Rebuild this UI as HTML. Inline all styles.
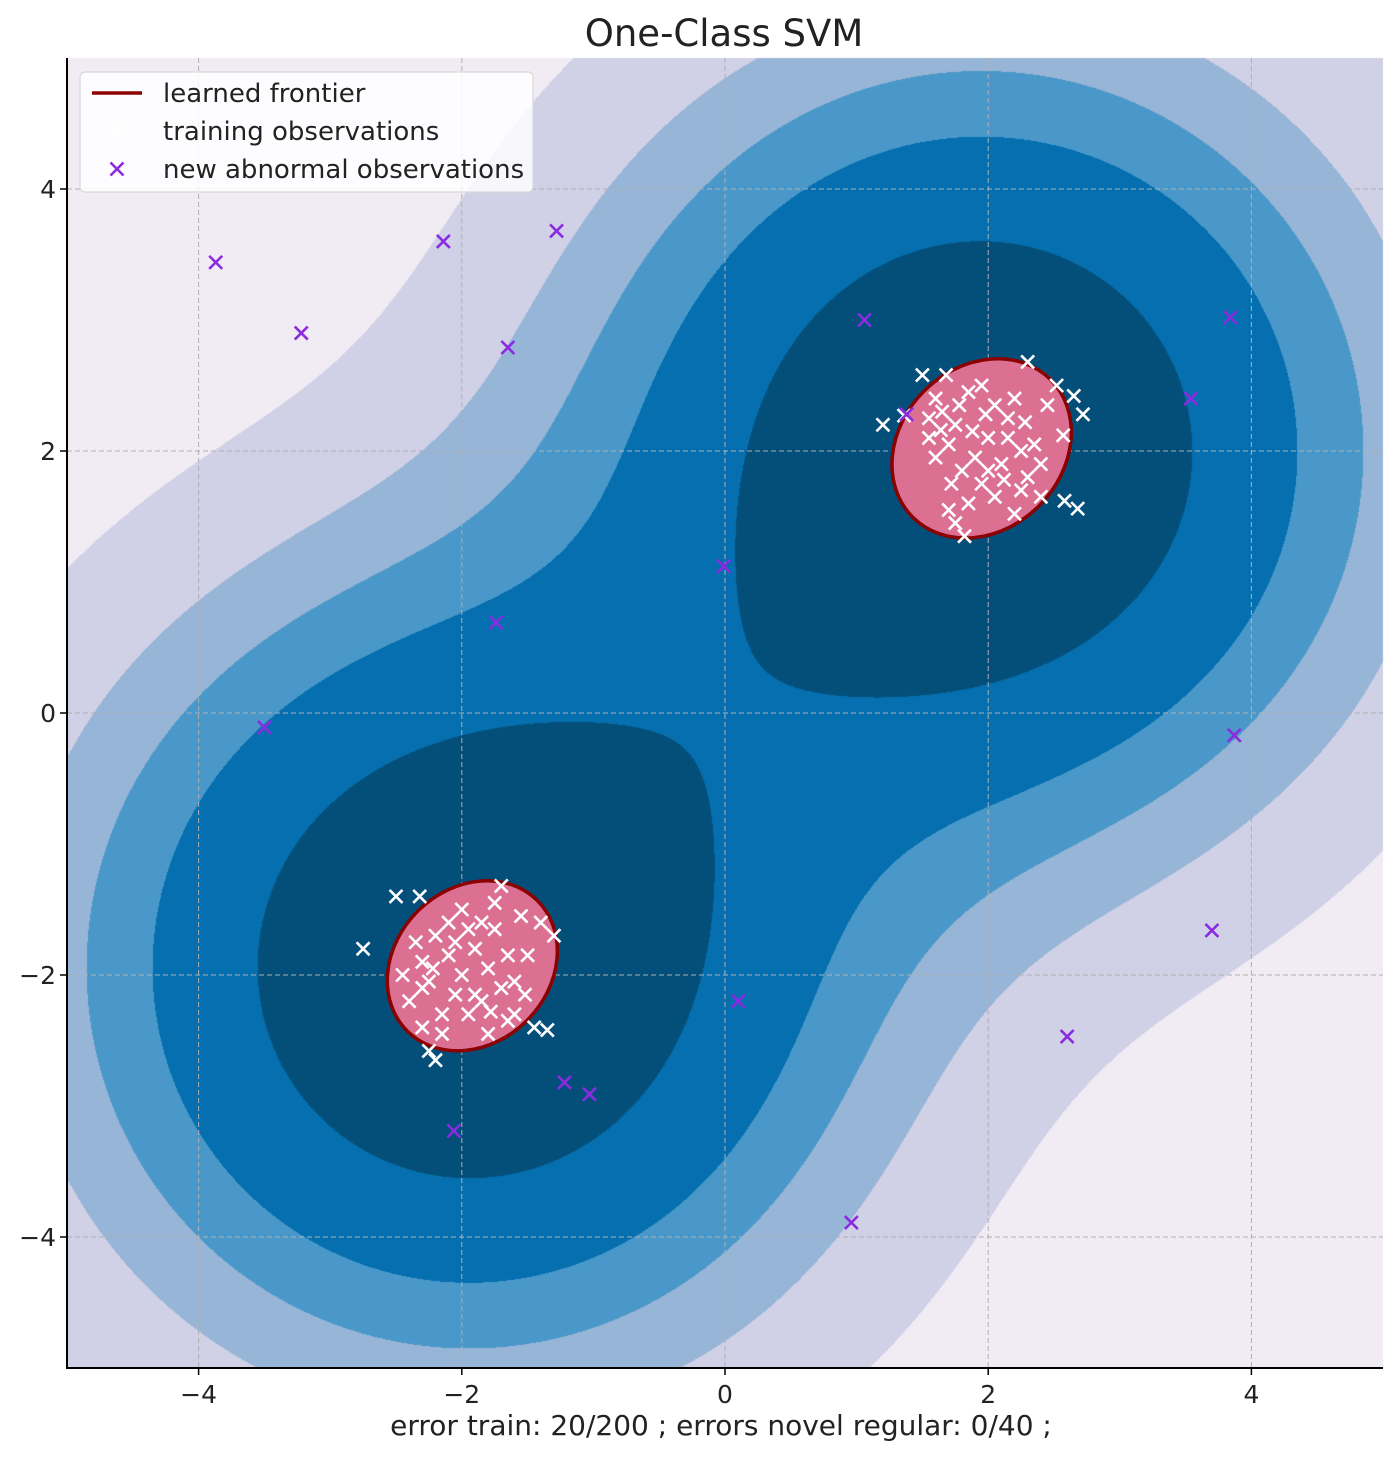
<!DOCTYPE html>
<html><head><meta charset="utf-8"><style>
body{margin:0;background:#fff;width:1400px;height:1457px;overflow:hidden;font-family:"DejaVu Sans","Liberation Sans",sans-serif;}
#wrap{position:relative;width:1400px;height:1457px;}
canvas,svg{position:absolute;left:0;top:0;}
</style></head><body>
<div id="wrap">
<canvas id="cv" width="1400" height="1457"></canvas>
<svg id="sv" width="1400" height="1457"></svg>
</div>
<script>
const xTicks=[-4,-2,0,2,4];
const yTicks=[-4,-2,0,2,4];
const centers=[[1.95,2.0],[-1.95,-1.95]];
const levels=[0.075,0.19,0.308,0.447,0.70];
const levelColors=["#f1ebf4","#d0d1e6","#97b5d6","#4a98c9","#056faf","#044f7a"];
const frontiers=[[1.95,2.02,0.74,0.62,-45],[-1.92,-1.93,0.70,0.59,-45]];
const trainUpper=[[1.5,2.58],[1.68,2.58],[1.2,2.2],[1.36,2.27],[2.3,2.68],[2.52,2.5],[2.65,2.42],[2.72,2.28],[2.68,1.56],[2.58,1.62],[1.82,1.35],[1.75,1.45],[1.7,1.55],[2.2,1.52],[2.4,1.65],[2.57,2.12],[2.45,2.35],[1.55,2.1],[1.6,1.95],[1.65,2.3],[1.75,2.2],[1.85,2.45],[1.95,2.5],[2.05,2.35],[2.15,2.25],[2.0,2.1],[1.9,1.95],[1.8,1.85],[2.1,1.9],[2.25,2.0],[2.35,2.05],[1.95,1.75],[2.05,1.65],[1.85,1.6],[2.3,1.8],[1.7,2.05],[2.15,2.1],[1.78,2.35],[2.4,1.9],[1.6,2.4],[2.2,2.4],[2.0,1.85],[1.88,2.15],[2.25,1.7],[1.55,2.25],[1.72,1.75],[2.28,2.22],[1.98,2.28],[1.64,2.16],[2.12,1.78]];
const trainLower=[[-2.75,-1.8],[-2.5,-1.4],[-2.32,-1.4],[-1.7,-1.32],[-1.3,-1.7],[-1.45,-2.4],[-1.35,-2.42],[-2.2,-2.65],[-2.25,-2.58],[-2.3,-2.4],[-1.8,-2.45],[-1.6,-2.3],[-1.4,-1.6],[-1.5,-1.85],[-1.6,-2.05],[-2.45,-2.0],[-2.35,-1.75],[-2.2,-1.7],[-2.1,-1.85],[-2.0,-2.0],[-1.9,-1.8],[-1.8,-1.95],[-1.7,-2.1],[-2.05,-2.15],[-2.15,-2.3],[-1.95,-2.3],[-1.85,-1.6],[-2.0,-1.5],[-1.75,-1.65],[-2.25,-2.05],[-2.4,-2.2],[-1.65,-1.85],[-1.55,-1.55],[-2.1,-1.6],[-1.9,-2.15],[-2.3,-1.9],[-1.85,-2.2],[-1.95,-1.65],[-2.15,-2.45],[-1.65,-2.35],[-2.3,-2.1],[-1.75,-1.45],[-2.05,-1.75],[-1.78,-2.28],[-2.22,-1.95],[-1.52,-2.15]];
const abnormal=[[-3.87,3.44],[-3.22,2.9],[-2.14,3.6],[-1.28,3.68],[-1.65,2.79],[1.06,3.0],[3.84,3.02],[3.54,2.4],[1.38,2.28],[-0.01,1.12],[-1.74,0.69],[-3.5,-0.11],[3.87,-0.17],[3.7,-1.66],[2.6,-2.47],[0.1,-2.2],[-1.22,-2.82],[-1.03,-2.91],[-2.06,-3.19],[0.96,-3.89]];

const L=67,R=1383,T=58,B=1368;
const sx=v=>L+(v+5)/10*(R-L);
const sy=v=>B-(v+5)/10*(B-T);
const G=0.14;
function f(x,y){let s=0;for(const c of centers){const dx=x-c[0],dy=y-c[1];s+=Math.exp(-G*(dx*dx+dy*dy));}return s;}
const cv=document.getElementById('cv');const ctx=cv.getContext('2d');
const W=R-L,H=B-T;const img=ctx.createImageData(W,H);
const rgb=levelColors.map(h=>[parseInt(h.slice(1,3),16),parseInt(h.slice(3,5),16),parseInt(h.slice(5,7),16)]);
for(let j=0;j<H;j++){const y=5-(j+0.5)/H*10;for(let i=0;i<W;i++){const x=-5+(i+0.5)/W*10;const v=f(x,y);let k=0;while(k<levels.length&&v>levels[k])k++;const c=rgb[k];const p=(j*W+i)*4;img.data[p]=c[0];img.data[p+1]=c[1];img.data[p+2]=c[2];img.data[p+3]=255;}}
ctx.putImageData(img,L,T);
const NS="http://www.w3.org/2000/svg";const sv=document.getElementById('sv');
function el(t,a,p){const e=document.createElementNS(NS,t);for(const k in a)e.setAttribute(k,a[k]);(p||sv).appendChild(e);return e;}
for(const t of xTicks){const g=el('line',{x1:sx(t),x2:sx(t),y1:T,y2:B,stroke:'#b0b0b0','stroke-width':1,'stroke-dasharray':'5,3'});

}
for(const t of yTicks){const g=el('line',{x1:L,x2:R,y1:sy(t),y2:sy(t),stroke:'#b0b0b0','stroke-width':1,'stroke-dasharray':'5,3'});

}
for(const fr of frontiers){const e=el('ellipse',{cx:sx(fr[0]),cy:sy(fr[1]),rx:fr[2]*(R-L)/10,ry:fr[3]*(B-T)/10,transform:`rotate(${fr[4]} ${sx(fr[0])} ${sy(fr[1])})`,fill:'#db7093',stroke:'#8b0000','stroke-width':3.5});

}
function cross(x,y,col,name){const g=el('g',{stroke:col,'stroke-width':2.6,fill:'none'});


const s=6.5;el('path',{d:`M${x-s},${y-s}L${x+s},${y+s}M${x-s},${y+s}L${x+s},${y-s}`},g);}
for(const p of trainUpper.concat(trainLower))cross(sx(p[0]),sy(p[1]),'#ffffff','training-point');
for(const p of abnormal)cross(sx(p[0]),sy(p[1]),'#8a2be2','abnormal-point');
el('line',{x1:L,x2:L,y1:T,y2:B+1,stroke:'#000','stroke-width':2});
el('line',{x1:L-1,x2:R,y1:B,y2:B,stroke:'#000','stroke-width':2});
for(const t of xTicks){el('line',{x1:sx(t),x2:sx(t),y1:B,y2:B+7,stroke:'#000','stroke-width':1.5});
const tx=el('text',{x:sx(t),y:B+35,'text-anchor':'middle','font-size':25,fill:'#222'});tx.textContent=(t<0?'\u2212':'')+Math.abs(t);

}
for(const t of yTicks){el('line',{x1:L-7,x2:L,y1:sy(t),y2:sy(t),stroke:'#000','stroke-width':1.5});
const tx=el('text',{x:L-11,y:sy(t)+9,'text-anchor':'end','font-size':25,fill:'#222'});tx.textContent=(t<0?'\u2212':'')+Math.abs(t);

}
const ti=el('text',{x:724,y:46,'text-anchor':'middle','font-size':37,fill:'#222'});ti.textContent='One-Class SVM';


const xl=el('text',{x:721,y:1435,'text-anchor':'middle','font-size':28,fill:'#222'});xl.textContent='error train: 20/200 ; errors novel regular: 0/40 ;';


const lg=el('g',{});


el('rect',{x:80,y:72,width:453,height:120,rx:5,fill:'#ffffff','fill-opacity':0.85,stroke:'#d8d8d8','stroke-width':1.2},lg);
el('line',{x1:92,x2:142,y1:93,y2:93,stroke:'#8b0000','stroke-width':3.5},lg);
const s=6.5;
el('path',{d:`M${117-s},${131-s}L${117+s},${131+s}M${117-s},${131+s}L${117+s},${131-s}`,stroke:'#ffffff','stroke-width':2.6},lg);
el('path',{d:`M${117-s},${169-s}L${117+s},${169+s}M${117-s},${169+s}L${117+s},${169-s}`,stroke:'#8a2be2','stroke-width':2.6},lg);
const labs=['learned frontier','training observations','new abnormal observations'];
labs.forEach((t,i)=>{const tx=el('text',{x:163,y:102+i*38,'font-size':26,fill:'#222'},lg);tx.textContent=t;

});
</script>
</body></html>
